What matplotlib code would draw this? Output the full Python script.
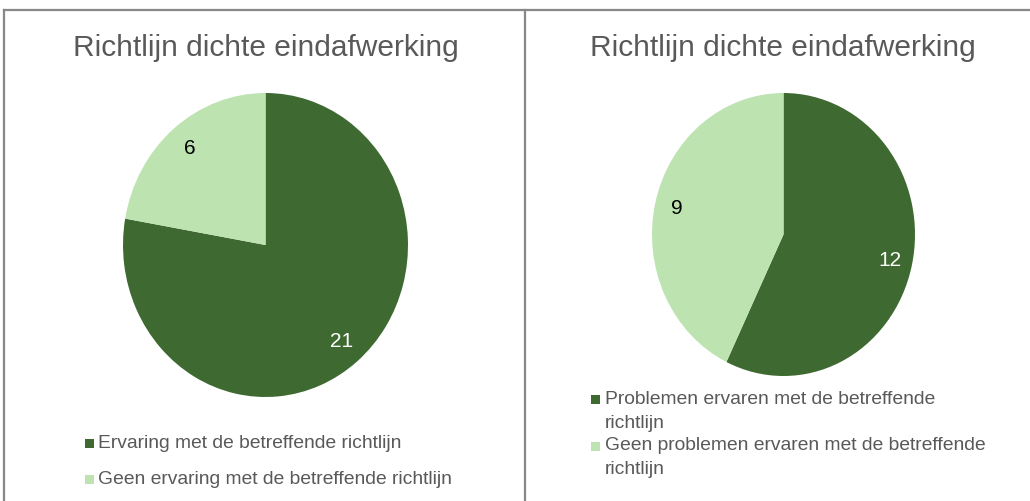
import matplotlib
matplotlib.use('Agg')
import matplotlib.pyplot as plt
from matplotlib.patches import Rectangle
from matplotlib.lines import Line2D

plt.rcParams['font.family'] = ['Liberation Sans', 'DejaVu Sans']

# data
title = 'Richtlijn dichte eindafwerking'
left_labels = ['Ervaring met de betreffende richtlijn',
               'Geen ervaring met de betreffende richtlijn']
left_values = [21, 6]
right_labels = ['Problemen ervaren met de betreffende\nrichtlijn',
                'Geen problemen ervaren met de betreffende\nrichtlijn']
right_values = [12, 9]

dark = '#3E6A31'
light = '#BDE3B1'
colors = [dark, light]
text_grey = '#595959'
W, H = 1030, 501


def px_axes(fig, x0, y0, x1, y1):
    # pixel box (top-left origin) -> figure axes
    return fig.add_axes([x0 / W, (H - y1) / H, (x1 - x0) / W, (y1 - y0) / H])


def draw_pie(ax, values):
    total = sum(values)
    _, _, autotexts = ax.pie(
        values,
        colors=colors,
        startangle=90,
        counterclock=False,
        radius=1,
        autopct=lambda p: '%d' % round(p * total / 100),
        pctdistance=0.83,
        wedgeprops=dict(linewidth=0),
        textprops=dict(fontsize=15),
    )
    autotexts[0].set_color('white')
    autotexts[1].set_color('black')
    ax.set_aspect('auto')
    ax.set_xlim(-1, 1)
    ax.set_ylim(-1, 1)
    ax.axis('off')


def draw_legend(fig, labels, x_box, x_text, rows, line_gap):
    for i, label in enumerate(labels):
        y = rows[i]
        fig.patches.append(Rectangle(((x_box) / W, (H - y - 4.5) / H), 9 / W, 9 / H,
                                     transform=fig.transFigure, color=colors[i],
                                     linewidth=0))
        for j, line in enumerate(label.split('\n')):
            fig.text(x_text / W, (H - y - j * line_gap) / H, line,
                     fontsize=13.9, color=text_grey, va='center', ha='left')


fig = plt.figure(figsize=(W / 100, H / 100), dpi=100)
fig.patch.set_facecolor('white')

# frame lines
frame = dict(color='#888888', linewidth=1.6, transform=fig.transFigure)
fig.add_artist(Line2D([4 / W, 1], [(H - 10) / H] * 2, **frame))
fig.add_artist(Line2D([4 / W] * 2, [0, (H - 10) / H], **frame))
fig.add_artist(Line2D([524.5 / W] * 2, [0, (H - 10) / H], **frame))

# titles
fig.text(265.5 / W, (H - 48) / H, title, fontsize=21.5, color=text_grey,
         ha='center', va='center')
fig.text(783 / W, (H - 48) / H, title, fontsize=21.5, color=text_grey,
         ha='center', va='center')

ax1 = px_axes(fig, 123, 93, 408, 397)
draw_pie(ax1, left_values)
ax2 = px_axes(fig, 652, 93, 915, 376)
draw_pie(ax2, right_values)

draw_legend(fig, left_labels, 85, 98, [443, 479], 24)
draw_legend(fig, right_labels, 591, 605, [399, 446], 24)

fig.savefig('out.png', dpi=100, facecolor='white')
